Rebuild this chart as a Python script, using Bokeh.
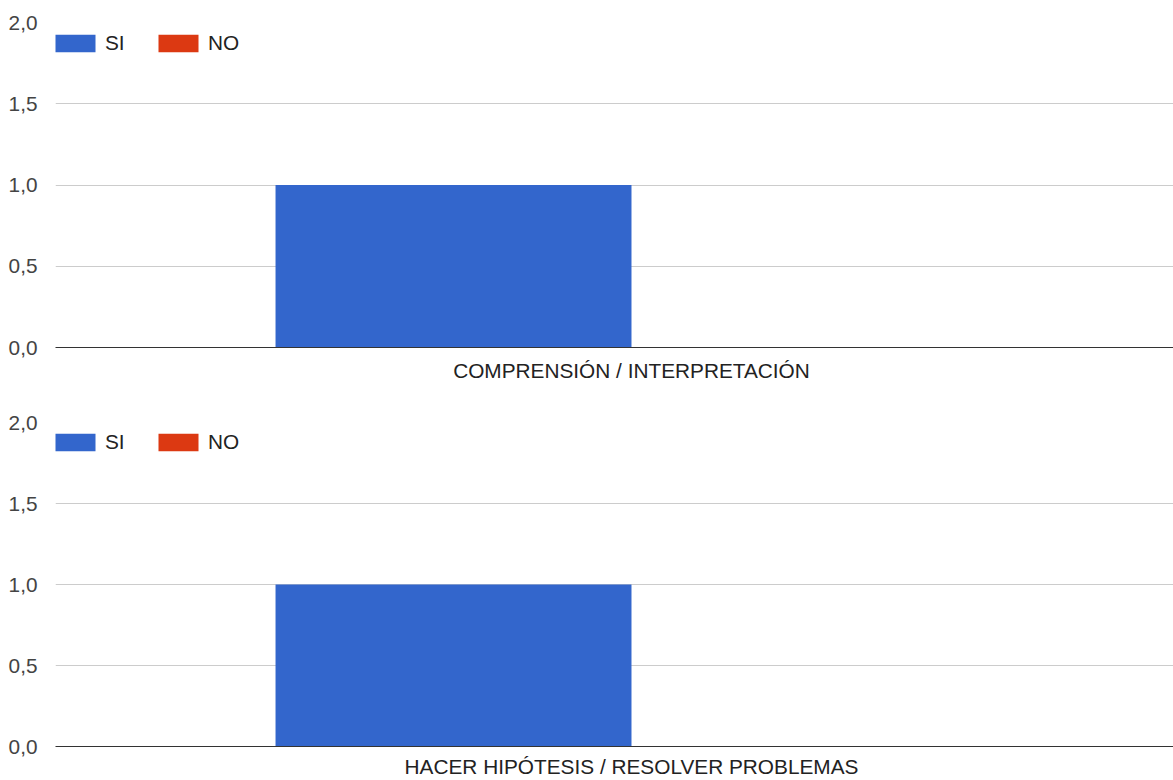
from bokeh.plotting import figure
from bokeh.models import ColumnDataSource, Range1d, FixedTicker, Legend, LegendItem
from bokeh.transform import dodge
from bokeh.layouts import column
from bokeh.embed import file_html
from bokeh.resources import INLINE

# ---- data ----
categories = ["COMPRENSIÓN / INTERPRETACIÓN", "HACER HIPÓTESIS / RESOLVER PROBLEMAS"]
series_names = ["SI", "NO"]
si_values = [1, 1]
no_values = [0, 0]
y_ticks = [0, 0.5, 1, 1.5, 2]
y_tick_labels = ["0,0", "0,5", "1,0", "1,5", "2,0"]

colors = {"SI": "#3366cc", "NO": "#dc3912"}
FONT = "Liberation Sans"
FS = "20.8px"
BAR_W = 0.309


def make_chart(idx, height, top, bottom, standoff):
    p = figure(width=1173, height=height, output_backend="svg", toolbar_location=None,
               x_range=Range1d(-0.5, 0.4705), y_range=Range1d(0, 2),
               min_border_left=55, min_border_right=0,
               min_border_top=top, min_border_bottom=bottom)
    p.outline_line_color = None
    p.background_fill_color = "white"
    p.border_fill_color = "white"

    src = ColumnDataSource(dict(x=[0], SI=[si_values[idx]], NO=[no_values[idx]]))
    r_si = p.vbar(x=dodge("x", -BAR_W / 2, range=p.x_range), top="SI", width=BAR_W,
                  source=src, fill_color=colors["SI"], line_color=None)
    r_no = p.vbar(x=dodge("x", BAR_W / 2, range=p.x_range), top="NO", width=BAR_W,
                  source=src, fill_color=colors["NO"], line_color=None)

    # y axis
    p.yaxis.ticker = FixedTicker(ticks=y_ticks)
    p.yaxis.major_label_overrides = {float(t): l for t, l in zip(y_ticks, y_tick_labels)}
    p.yaxis.axis_line_color = None
    p.yaxis.major_tick_line_color = None
    p.yaxis.minor_tick_line_color = None
    p.yaxis.major_label_standoff = 12
    p.yaxis.major_label_text_font = FONT
    p.yaxis.major_label_text_font_size = FS
    p.yaxis.major_label_text_color = "#444444"

    # x axis
    p.xaxis.ticker = FixedTicker(ticks=[0])
    p.xaxis.major_label_overrides = {0: categories[idx]}
    p.xaxis.axis_line_color = "#333333"
    p.xaxis.axis_line_width = 1
    p.xaxis.major_tick_line_color = None
    p.xaxis.minor_tick_line_color = None
    p.xaxis.major_label_standoff = standoff
    p.xaxis.major_label_text_font = FONT
    p.xaxis.major_label_text_font_size = FS
    p.xaxis.major_label_text_color = "#222222"
    p.xaxis.major_label_text_line_height = 1.0

    p.xgrid.grid_line_color = None
    p.ygrid.grid_line_color = "#cccccc"
    p.ygrid.grid_line_width = 1

    legend = Legend(items=[LegendItem(label=series_names[0], renderers=[r_si]),
                           LegendItem(label=series_names[1], renderers=[r_no])],
                    orientation="horizontal", location=(-5, 292),
                    glyph_width=50, glyph_height=22, label_standoff=5, spacing=28,
                    padding=0, margin=0, border_line_color=None,
                    background_fill_alpha=0,
                    label_text_font=FONT, label_text_font_size=FS,
                    label_text_color="#222222")
    p.add_layout(legend, "center")
    return p


p1 = make_chart(0, 408, 22, 61, 5)
p2 = make_chart(1, 372, 14, 33, 2)
layout = column(p1, p2, spacing=0)

open("out.html", "w").write(file_html(layout, INLINE))
